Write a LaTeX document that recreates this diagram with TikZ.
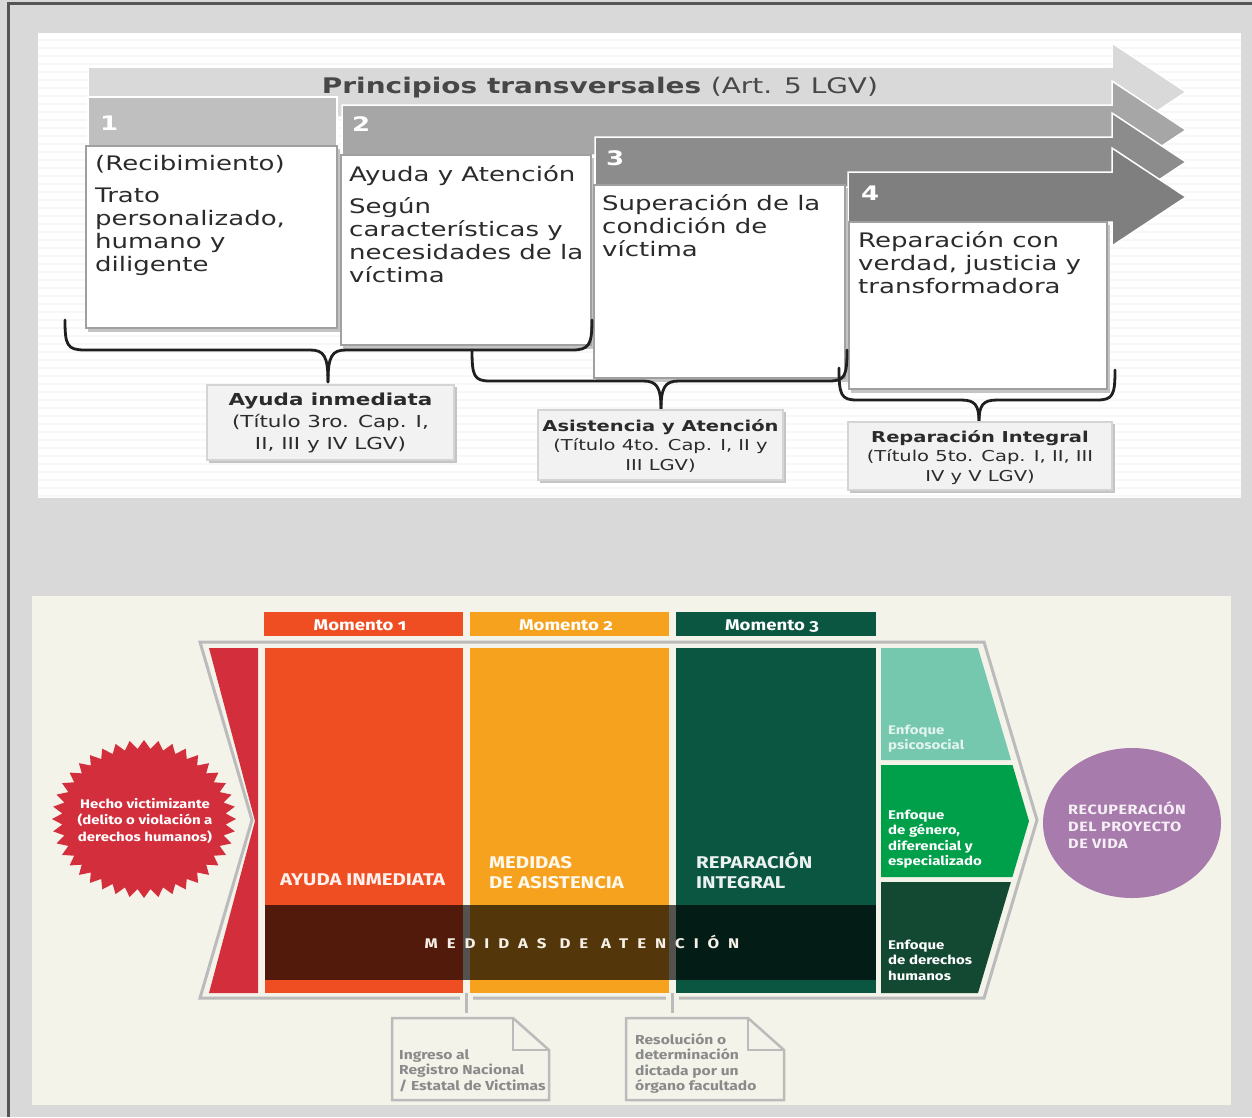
\documentclass[tikz,border=0pt]{standalone}
\usepackage{fontspec}
\newfontfamily\vf{DejaVu Sans}[FakeStretch=1.3]
\newfontfamily\ff{Fira Sans}[FakeStretch=1.2,Numbers=OldStyle]
\definecolor{bggray}{HTML}{D9D9D9}
\definecolor{framegray}{HTML}{555555}
\definecolor{arrA}{HTML}{D9D9D9}
\definecolor{hdrA}{HTML}{BFBFBF}
\definecolor{arrB}{HTML}{A6A6A6}
\definecolor{arrC}{HTML}{8C8C8C}
\definecolor{arrD}{HTML}{7F7F7F}
\definecolor{boxline}{HTML}{A0A0A0}
\definecolor{shadowc}{HTML}{C4C4C4}
\definecolor{toptext}{HTML}{2B2B2B}
\definecolor{lblfill}{HTML}{F2F2F2}
\definecolor{lblline}{HTML}{D4D4D4}
\definecolor{cream}{HTML}{F4F3EA}
\definecolor{seal}{HTML}{D22E3C}
\definecolor{colA}{HTML}{EF4E23}
\definecolor{colB}{HTML}{F6A21E}
\definecolor{colC}{HTML}{0B5641}
\definecolor{enfA}{HTML}{75C8AE}
\definecolor{enfB}{HTML}{00A04B}
\definecolor{enfC}{HTML}{134833}
\definecolor{purp}{HTML}{A77BAB}
\definecolor{outl}{HTML}{BBBBBB}
\definecolor{notetext}{HTML}{8A8A8A}
\tikzset{
  toptxt/.style={font=\vf\fontsize{20}{23.3}\selectfont, text=toptext, align=left, anchor=base west, inner sep=0pt},
  numtxt/.style={font=\vf\bfseries\fontsize{20}{24}\selectfont, text=white, anchor=base west, inner sep=0pt},
  lbltxtA/.style={font=\vf\fontsize{16.5}{22}\selectfont, text=toptext, align=center, anchor=base, inner sep=0pt},
  lbltxtB/.style={font=\vf\fontsize{15}{19.5}\selectfont, text=toptext, align=center, anchor=base, inner sep=0pt},
  cbox/.style={fill=white, draw=boxline, line width=1.5pt},
  lbox/.style={fill=lblfill, draw=lblline, line width=1.2pt},
  bracep/.style={draw=black!88, line width=2.8pt, line cap=round, line join=round},
  momtxt/.style={font=\ff\bfseries\fontsize{15.5}{18}\selectfont, text=white, anchor=base, inner sep=0pt},
  coltxt/.style={font=\ff\bfseries\fontsize{17}{20}\selectfont, align=left, anchor=base west, inner sep=0pt},
  enftxt/.style={font=\ff\bfseries\fontsize{12.5}{15.5}\selectfont, text=white, align=left, anchor=base west, inner sep=0pt},
  notestyle/.style={draw=outl, line width=2.5pt, line join=miter},
  notetxt/.style={font=\ff\bfseries\fontsize{13}{15.5}\selectfont, text=notetext, align=left, anchor=base west, inner sep=0pt},
  conn/.style={draw=outl, line width=2.5pt}
}
\begin{document}
\begin{tikzpicture}[x=1pt,y=-1pt]
\useasboundingbox (0,0) rectangle (1252,1117);
\fill[bggray] (0,0) rectangle (1252,1117);
\draw[framegray, line width=2.5pt] (8.5,1117) -- (8.5,3.5) -- (1252,3.5);

% ---------------- top panel ----------------
\fill[white] (38,33) rectangle (1241,498);
\foreach \yy in {40,48,...,496} \draw[black!3, line width=1.5pt] (38,\yy) -- (1241,\yy);

\foreach \L/\T/\c in {88/67/arrA, 342/105/arrB, 595/137/arrC, 848/172/arrD}
  \filldraw[fill=\c, draw=white, line width=1.5pt] (\L,\T) -- (1112,\T) -- (1112,{\T-24}) -- (1186,{\T+25}) -- (1112,{\T+74}) -- (1112,{\T+50}) -- (\L,{\T+50}) -- cycle;
\filldraw[fill=hdrA, draw=white, line width=1.2pt] (88,97) rectangle (337,146);

\node[font=\vf\fontsize{21.5}{24}\selectfont, text=black!72, anchor=base, inner sep=0pt] (princ) at (600,93) {\bfseries Principios transversales \mdseries(Art. 5 LGV)};

\node[numtxt] (n1) at (100,130) {1};
\node[numtxt] (n2) at (352,131) {2};
\node[numtxt] (n3) at (606,165) {3};
\node[numtxt] (n4) at (861,200) {4};

\foreach \a/\b/\c/\d in {86/146/337/328, 341/155/591/345, 594/185/845/378, 849/222/1107/389} {
  \fill[shadowc] ({\a+2},{\b+3}) rectangle ({\c+3},{\d+4});
  \filldraw[cbox] (\a,\b) rectangle (\c,\d);
}

% multi-line nodes: the base anchor is the baseline of the last line
\node[toptxt] (b1a) at (95,170) {(Recibimiento)};
\node[toptxt] (b1b) at (95,271.9) {Trato\\personalizado,\\humano y\\diligente};
\node[toptxt] (b2a) at (349,181) {Ayuda y Atención};
\node[toptxt] (b2b) at (349,282.9) {Según\\características y\\necesidades de la\\víctima};
\node[toptxt] (b3) at (602,256.6) {Superación de la\\condición de\\víctima};
\node[toptxt] (b4) at (858,293.6) {Reparación con\\verdad, justicia y\\transformadora};

% braces
\draw[bracep] (65,320) .. controls (65,345) and (67,350) .. (85,350) -- (310,350) .. controls (324,350) and (328,356) .. (328,382);
\draw[bracep] (328,382) .. controls (328,356) and (332,350) .. (346,350) -- (572,350) .. controls (589,350) and (592,345) .. (592,320);
\draw[bracep] (472,350) .. controls (472,376) and (474,381) .. (490,381) -- (643,381) .. controls (657,381) and (661,387) .. (661,410);
\draw[bracep] (661,410) .. controls (661,387) and (665,381) .. (679,381) -- (829,381) .. controls (845,381) and (847,376) .. (847,350);
\draw[bracep] (839,368) .. controls (839,395) and (841,400) .. (857,400) -- (961,400) .. controls (975,400) and (979,405) .. (979,422);
\draw[bracep] (979,422) .. controls (979,405) and (983,400) .. (997,400) -- (1097,400) .. controls (1113,400) and (1115,395) .. (1115,370);

% label boxes
\fill[shadowc] (209,387) rectangle (457,463);
\filldraw[lbox] (207,385) rectangle (454,460);
\fill[shadowc] (540,412) rectangle (786,483);
\filldraw[lbox] (538,410) rectangle (783,480);
\fill[shadowc] (850,424) rectangle (1115,493);
\filldraw[lbox] (848,422) rectangle (1112,490);
\node[lbltxtA] (l1) at (330.5,449) {\bfseries Ayuda inmediata\\(Título 3ro. Cap. I,\\II, III y IV LGV)};
\node[lbltxtB] (l2) at (660.5,470) {\bfseries Asistencia y Atención\\(Título 4to. Cap. I, II y\\III LGV)};
\node[lbltxtB] (l3) at (980,481) {\bfseries Reparación Integral\\(Título 5to. Cap. I, II, III\\IV y V LGV)};

% ---------------- bottom panel ----------------
\fill[cream] (32,596) rectangle (1231,1105);

\fill[colA] (264,612) rectangle (463,636);
\fill[colB] (470,612) rectangle (669,636);
\fill[colC] (676,612) rectangle (876,636);
\node[momtxt] (m1) at (360,630) {Momento 1};
\node[momtxt] (m2) at (566,630) {Momento 2};
\node[momtxt] (m3) at (772,630) {Momento 3};

\draw[outl, line width=3pt, line join=miter] (200,642) -- (984,642) -- (1037,820) -- (984,998) -- (200,998) -- (252,820) -- cycle;

\fill[seal] (209,648) -- (258,648) -- (258,993) -- (209,993) -- (255,821) -- cycle;

\fill[colA] (265,648) rectangle (463,993);
\fill[colB] (470,648) rectangle (669,993);
\fill[colC] (676,648) rectangle (876,993);

\fill[enfA] (881,648) -- (978,648) -- (1011,760) -- (881,760) -- cycle;
\fill[enfB] (881,765) -- (1012.5,765) -- (1029,821) -- (1012.4,877) -- (881,877) -- cycle;
\fill[enfC] (881,882) -- (1010.9,882) -- (978,993) -- (881,993) -- cycle;

\node[coltxt, text=white!92!colA] (ca) at (280,885) {AYUDA INMEDIATA};
\node[coltxt, text=white!92!colB] (cb) at (489,888) {MEDIDAS\\DE ASISTENCIA};
\node[coltxt, text=white!92!colC] (cc) at (696,888) {REPARACIÓN\\INTEGRAL};

\fill[black, opacity=0.66] (265,905) rectangle (876,980);
\node[font=\ff\bfseries\fontsize{14}{16}\selectfont\addfontfeature{LetterSpace=64}, text=white!88!brown, anchor=base, inner sep=0pt] (medat) at (582,948) {MEDIDAS DE ATENCIÓN};

\node[enftxt, text=white!80!enfA] (e1) at (888,749.5) {Enfoque\\psicosocial};
\node[enftxt] (e2) at (888,865.5) {Enfoque\\de género,\\diferencial y\\especializado};
\node[enftxt] (e3) at (888,980) {Enfoque\\de derechos\\humanos};

% starburst
\begin{scope}[shift={(144,819)}, x=92pt, y=79pt]
\fill[seal] (0:1) \foreach \k in {1,...,40} { -- ({\k*9-4.5}:0.89) -- ({\k*9}:1) } -- cycle;
\end{scope}
\node[font=\ff\bfseries\fontsize{12.5}{16.5}\selectfont, text=white, align=center, anchor=base, inner sep=0pt] (hecho) at (145,841) {Hecho victimizante\\(delito o violación a\\derechos humanos)};

% circle
\fill[purp] (1132,823) ellipse [x radius=89pt, y radius=75pt];
\node[font=\ff\bfseries\fontsize{13.5}{17}\selectfont\addfontfeature{LetterSpace=4}, text=white!88!purp, align=left, anchor=base west, inner sep=0pt] (recup) at (1068,848) {RECUPERACIÓN\\DEL PROYECTO\\DE VIDA};

% connectors and notes
\fill[cream] (460,995) rectangle (473,1001);
\fill[cream] (666,995) rectangle (679,1001);
\coordinate (g1) at (466.5,993);
\coordinate (t1) at (466.5,1013);
\coordinate (g2) at (672.5,993);
\coordinate (t2) at (672.5,1013);
\draw[conn] (g1) -- (t1);
\draw[conn] (g2) -- (t2);

\draw[notestyle] (392,1018) -- (513,1018) -- (549,1050) -- (549,1100) -- (392,1100) -- cycle;
\draw[notestyle] (513,1018) -- (513,1050) -- (549,1050);
\draw[notestyle] (626,1018) -- (748,1018) -- (784,1050) -- (784,1100) -- (626,1100) -- cycle;
\draw[notestyle] (748,1018) -- (748,1050) -- (784,1050);
\node[notetxt] (nt1) at (399,1090) {Ingreso al\\Registro Nacional\\/ Estatal de Victimas};
\node[notetxt] (nt2) at (635,1090.5) {Resolución o\\determinación\\dictada por un\\órgano facultado};
\end{tikzpicture}
\end{document}
